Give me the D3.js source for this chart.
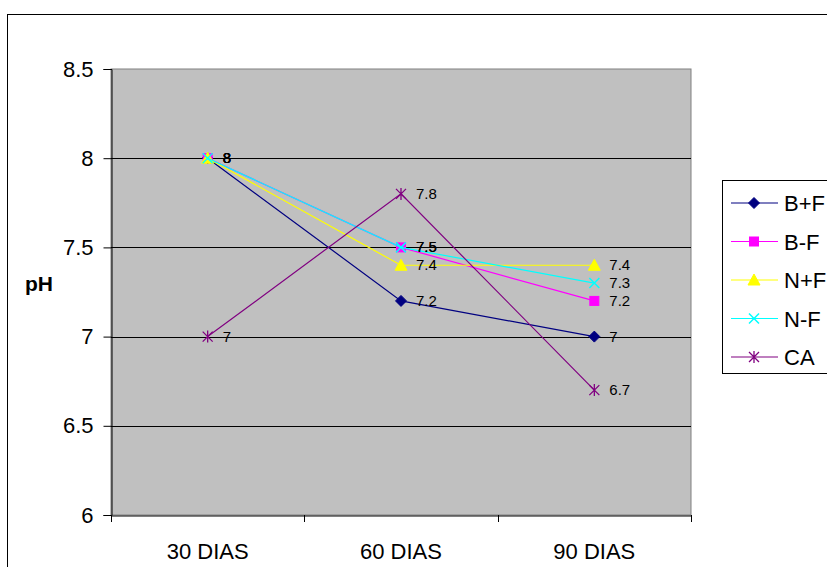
<!DOCTYPE html>
<html><head><meta charset="utf-8">
<script src="https://cdn.jsdelivr.net/npm/d3@7"></script>
<style>body{margin:0;background:#fff;}svg{display:block;font-family:Arial,"Liberation Sans",sans-serif;}</style>
</head><body>
<svg id="c" width="827" height="567"></svg>
<script>
const categories = ["30 DIAS", "60 DIAS", "90 DIAS"];
const seriesNames = ["B+F", "B-F", "N+F", "N-F", "CA"];
const valsBF = [8, 7.2, 7];
const valsBmF = [8, 7.5, 7.2];
const valsNF = [8, 7.4, 7.4];
const valsNmF = [8, 7.5, 7.3];
const valsCA = [7, 7.8, 6.7];
const yTicks = [6, 6.5, 7, 7.5, 8, 8.5];
const colors = ["#000080", "#FF00FF", "#FFFF00", "#00FFFF", "#800080"];
const markers = ["diamond", "square", "triangle", "x", "star"];
const allVals = [valsBF, valsBmF, valsNF, valsNmF, valsCA];

const svg = d3.select("#c");
const L = 111, R = 691, T = 69, B = 515;
const FONT = "Arial, 'Liberation Sans', sans-serif";

svg.append("rect").attr("x", 7.5).attr("y", 14.5).attr("width", 900).attr("height", 600)
  .attr("fill", "#fff").attr("stroke", "#000").attr("stroke-width", 1);

const x = d3.scaleBand().domain(categories).range([L, R]);
const y = d3.scaleLinear().domain([6, 8.5]).range([B, T]);

svg.append("rect").attr("x", L).attr("y", T).attr("width", R - L).attr("height", B - T)
  .attr("fill", "#C0C0C0").attr("stroke", "#808080").attr("stroke-width", 1);

svg.append("g").selectAll("line").data(yTicks.filter(d => d > 6 && d < 8.5)).join("line")
  .attr("x1", L).attr("x2", R).attr("y1", d => Math.round(y(d)) + 0.5).attr("y2", d => Math.round(y(d)) + 0.5)
  .attr("stroke", "#000").attr("stroke-width", 1);

const yAxis = svg.append("g").attr("transform", `translate(${L + 0.5},0)`)
  .call(d3.axisLeft(y).tickValues(yTicks).tickSize(8).tickPadding(10).tickFormat(d3.format("")));
yAxis.select(".domain").attr("stroke", "#000");
yAxis.selectAll("text").attr("font-size", 22).attr("fill", "#000").attr("font-family", FONT);

const xAxis = svg.append("g").attr("transform", `translate(0,${B + 0.5})`)
  .call(d3.axisBottom(x).tickSize(0));
xAxis.select(".domain").attr("stroke", "#000");
xAxis.selectAll("text").attr("font-size", 22).attr("fill", "#000").attr("dy", 0).attr("y", 43)
  .attr("font-family", FONT);
const edges = categories.map(c => x(c)).concat([R]);
svg.append("g").selectAll("line").data(edges).join("line")
  .attr("x1", d => Math.round(d) + 0.5).attr("x2", d => Math.round(d) + 0.5)
  .attr("y1", B).attr("y2", B + 7).attr("stroke", "#000");

svg.append("text").attr("x", 39).attr("y", 291).attr("text-anchor", "middle")
  .attr("font-size", 21).attr("font-weight", "bold").text("pH");

function drawMarker(g, type, color, cx, cy) {
  if (type === "diamond") {
    g.append("path").attr("d", `M${cx},${cy - 5.5}L${cx + 5.5},${cy}L${cx},${cy + 5.5}L${cx - 5.5},${cy}Z`)
      .attr("fill", color).attr("stroke", color);
  } else if (type === "square") {
    g.append("rect").attr("x", cx - 4.5).attr("y", cy - 4.5).attr("width", 9).attr("height", 9)
      .attr("fill", color).attr("stroke", color);
  } else if (type === "triangle") {
    g.append("path").attr("d", `M${cx},${cy - 6}L${cx + 6},${cy + 5}L${cx - 6},${cy + 5}Z`)
      .attr("fill", color).attr("stroke", color);
  } else if (type === "x") {
    g.append("path").attr("d", `M${cx - 5},${cy - 5}L${cx + 5},${cy + 5}M${cx - 5},${cy + 5}L${cx + 5},${cy - 5}`)
      .attr("stroke", color).attr("stroke-width", 1.5).attr("fill", "none");
  } else if (type === "star") {
    g.append("path").attr("d", `M${cx - 5},${cy - 5}L${cx + 5},${cy + 5}M${cx - 5},${cy + 5}L${cx + 5},${cy - 5}M${cx},${cy - 6}L${cx},${cy + 6}`)
      .attr("stroke", color).attr("stroke-width", 1.3).attr("fill", "none");
  }
}

const cx = c => x(c) + x.bandwidth() / 2;
const line = d3.line().x((d, i) => cx(categories[i])).y(d => y(d));

allVals.forEach((vals, si) => {
  const g = svg.append("g");
  g.append("path").attr("d", line(vals)).attr("fill", "none").attr("stroke", colors[si]).attr("stroke-width", 1.2);
  vals.forEach((v, i) => drawMarker(g, markers[si], colors[si], cx(categories[i]), y(v)));
});
allVals.forEach((vals, si) => {
  svg.append("g").selectAll("text").data(vals).join("text")
    .attr("x", (d, i) => cx(categories[i]) + 15).attr("y", d => y(d) + 5)
    .attr("font-size", 15).attr("fill", "#000").text(d => d);
});

// legend
const lg = svg.append("g");
lg.append("rect").attr("x", 722.5).attr("y", 180.5).attr("width", 200).attr("height", 193)
  .attr("fill", "#fff").attr("stroke", "#000");
seriesNames.forEach((n, i) => {
  const ly = 203 + i * 38.5;
  lg.append("line").attr("x1", 731).attr("x2", 778).attr("y1", ly).attr("y2", ly)
    .attr("stroke", colors[i]).attr("stroke-width", 1.2);
  drawMarker(lg, markers[i], colors[i], 754, ly);
  lg.append("text").attr("x", 784).attr("y", ly + 8).attr("font-size", 22).text(n);
});
</script>
</body></html>
